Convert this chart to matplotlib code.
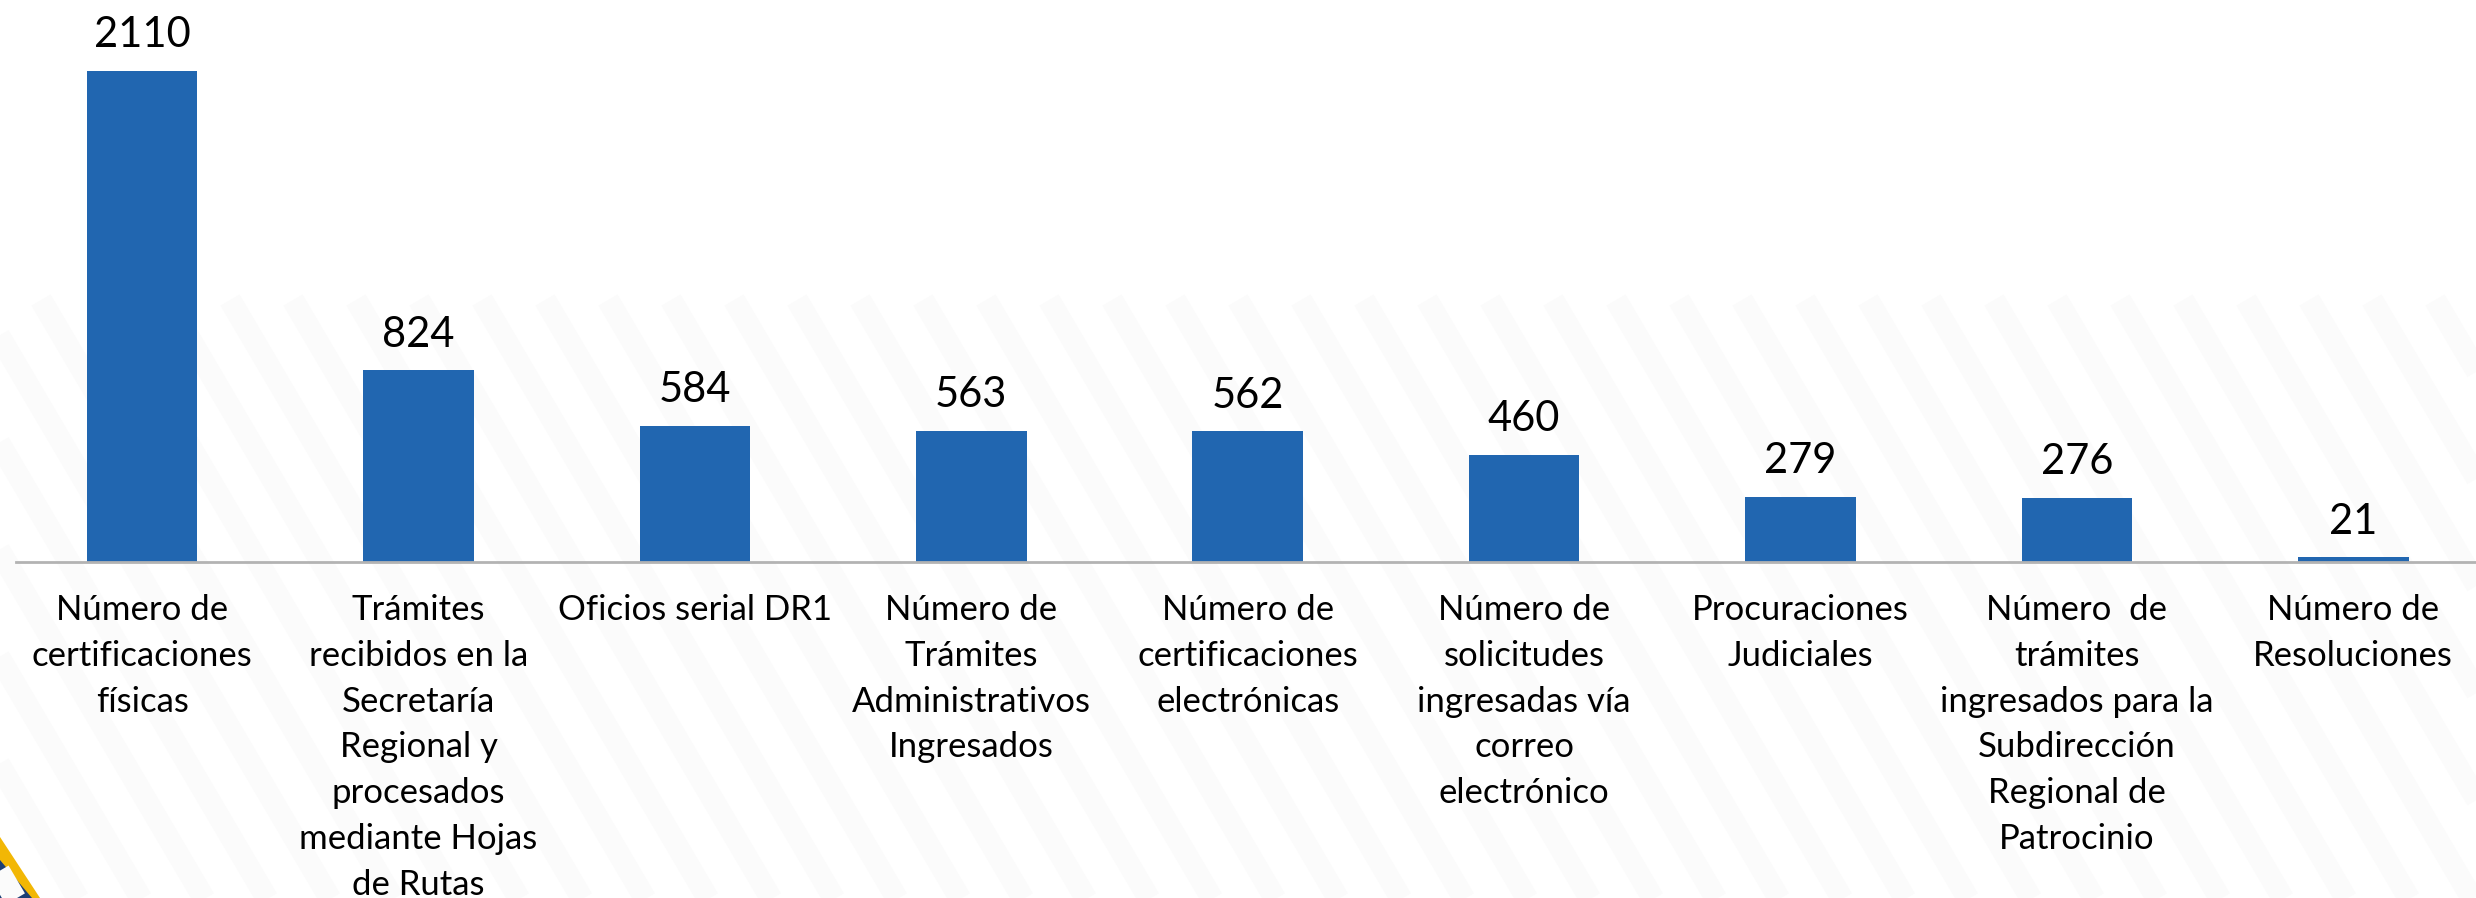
import numpy as np
import matplotlib.pyplot as plt
from matplotlib.patches import Polygon

categories = [
    "Número de\ncertificaciones\nfísicas",
    "Trámites\nrecibidos en la\nSecretaría\nRegional y\nprocesados\nmediante Hojas\nde Rutas",
    "Oficios serial DR1",
    "Número de\nTrámites\nAdministrativos\nIngresados",
    "Número de\ncertificaciones\nelectrónicas",
    "Número de\nsolicitudes\ningresadas vía\ncorreo\nelectrónico",
    "Procuraciones\nJudiciales",
    "Número  de\ntrámites\ningresados para la\nSubdirección\nRegional de\nPatrocinio",
    "Número de\nResoluciones",
]
values = [2110, 824, 584, 563, 562, 460, 279, 276, 21]

BAR_COLOR = "#2166B0"
W, H = 2476, 898

plt.rcParams["font.family"] = ["Lato", "DejaVu Sans"]

fig = plt.figure(figsize=(W / 100, H / 100), dpi=100)
fig.patch.set_facecolor("white")

# background: faint diagonal bands + corner logo
bg = fig.add_axes([0, 0, 1, 1], zorder=-1)
bg.set_xlim(0, W)
bg.set_ylim(H, 0)
bg.axis("off")
for x0 in range(-400, W, 63):
    bg.plot([x0, x0 + 360], [300, 912], color="#fbfbfb", lw=16, solid_capstyle="butt")
bg.add_patch(Polygon([[0, 837], [40, 898], [0, 898]], closed=True, color="#F2B705", lw=0))
bg.add_patch(Polygon([[0, 860], [32, 898], [0, 898]], closed=True, color="#1B3F75", lw=0))

# main chart
ax = fig.add_axes([0, (H - 562) / H, 1, 562 / H])
ax.patch.set_alpha(0)
x = np.arange(len(values))
ax.bar(x, values, width=0.4, color=BAR_COLOR, zorder=2)
ax.set_xlim(-0.514, 8.444)
ax.set_ylim(0, 2415)

for s in ["top", "right", "left"]:
    ax.spines[s].set_visible(False)
ax.spines["bottom"].set_color("#b3b3b3")
ax.spines["bottom"].set_linewidth(2)
ax.spines["bottom"].set_bounds(-0.456, 8.444)
ax.set_yticks([])
ax.set_xticks([])

for xi, v in zip(x, values):
    ax.annotate(str(v), (xi, v), xytext=(0, 17), textcoords="offset points",
                ha="center", va="baseline", fontsize=30, color="black")

for xi, lab in zip(x, categories):
    ax.annotate(lab, (xi, 0), xytext=(0, -23), textcoords="offset points",
                ha="center", va="top", fontsize=25, color="black",
                linespacing=1.53, annotation_clip=False)

fig.savefig("out.png", dpi=100, facecolor="white")
